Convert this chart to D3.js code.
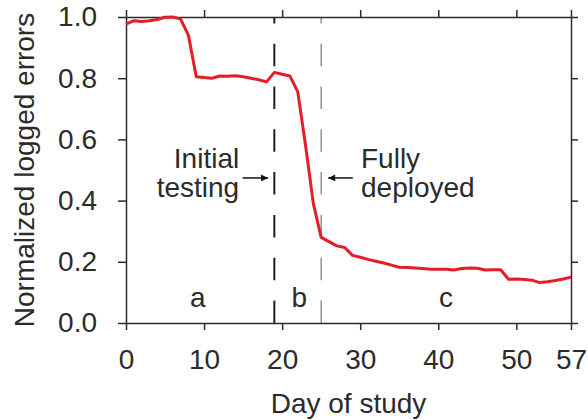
<!DOCTYPE html>
<html>
<head>
<meta charset="utf-8">
<script src="https://cdn.jsdelivr.net/npm/d3@7"></script>
<style>
  html, body { margin: 0; padding: 0; background: #fff; }
  svg text { font-family: "Liberation Sans", Arial, sans-serif; fill: #2b2b2b; }
</style>
</head>
<body>
<svg id="chart" width="588" height="420"></svg>
<script>
// ---- data ----
const days = [0,1,2,3,4,5,6,7,8,9,10,11,12,13,14,15,16,17,18,19,20,21,22,23,24,25,26,27,28,29,
              30,31,32,33,34,35,36,37,38,39,40,41,42,43,44,45,46,47,48,49,50,51,52,53,54,55,56,57];
const errors = [0.977,0.988,0.985,0.988,0.992,0.999,1.000,0.993,0.940,0.805,
                0.802,0.800,0.807,0.806,0.808,0.805,0.800,0.795,0.788,0.819,
                0.813,0.807,0.756,0.580,0.390,0.280,0.266,0.252,0.247,0.221,
                0.215,0.208,0.202,0.196,0.189,0.182,0.181,0.180,0.178,0.176,
                0.176,0.176,0.173,0.178,0.180,0.179,0.173,0.174,0.174,0.143,
                0.144,0.142,0.140,0.132,0.135,0.139,0.144,0.150];
const xTicks = [0,10,20,30,40,50,57];
const yTicks = [0,0.2,0.4,0.6,0.8,1.0];
const phaseDays = [19,25];
const phaseLabels = ["a","b","c"];
const phaseLabelDays = [9.2,22.2,41];
const xTitle = "Day of study";
const yTitle = "Normalized logged errors";
const leftNote = ["Initial","testing"];
const rightNote = ["Fully","deployed"];

// ---- layout ----
const W = 588, H = 420;
const m = {left:126, right:17, top:17, bottom:97};
const svg = d3.select("#chart");
const x = d3.scaleLinear().domain([0,57]).range([m.left, W - m.right]);
const y = d3.scaleLinear().domain([0,1]).range([H - m.bottom, m.top]);
const ink = "#2b2b2b";
const fs = 28;

// dashed phase lines (drawn from bottom up)
const dashCfg = [{w:2, c:"#1e1e1e"},{w:1.3, c:"#808080"}];
svg.append("g").selectAll("line").data(phaseDays).join("line")
  .attr("x1", d => x(d)).attr("x2", d => x(d))
  .attr("y1", y(0)).attr("y2", y(1))
  .attr("stroke", (d,i) => dashCfg[i].c)
  .attr("stroke-width", (d,i) => dashCfg[i].w)
  .attr("stroke-dasharray", "22.5 20.3");

// axes
function styleAxis(g){
  g.selectAll(".domain").attr("stroke", ink).attr("stroke-width", 1.5);
  g.selectAll(".tick line").attr("stroke", ink).attr("stroke-width", 1.5);
  g.selectAll(".tick text").style("font-size", fs + "px").attr("fill", ink);
}
svg.append("g").attr("transform", `translate(0,${y(0)})`)
  .call(d3.axisBottom(x).tickValues(xTicks).tickSize(7).tickSizeOuter(0).tickPadding(25).tickFormat(d3.format("d")))
  .call(styleAxis)
  .call(g => g.selectAll(".tick text").attr("dy", "0.71em").attr("y", 26));
svg.append("g").attr("transform", `translate(0,${y(1)})`)
  .call(d3.axisTop(x).tickValues(xTicks).tickSize(7).tickSizeOuter(0).tickFormat(""))
  .call(styleAxis);
svg.append("g").attr("transform", `translate(${x(0)},0)`)
  .call(d3.axisLeft(y).tickValues(yTicks).tickSize(8).tickSizeOuter(0).tickPadding(21).tickFormat(d3.format(".1f")))
  .call(styleAxis);
svg.append("g").attr("transform", `translate(${x(57)},0)`)
  .call(d3.axisRight(y).tickValues(yTicks).tickSize(7).tickSizeOuter(0).tickFormat(""))
  .call(styleAxis);

// data line
const line = d3.line().x((d,i) => x(days[i])).y(d => y(d));
svg.append("path").datum(errors)
  .attr("d", line).attr("fill", "none")
  .attr("stroke", "#e41e26").attr("stroke-width", 3)
  .attr("stroke-linejoin", "round");

// axis titles
svg.append("text").attr("x", (x(0)+x(57))/2).attr("y", 413)
  .attr("text-anchor", "middle").style("font-size", fs + "px").text(xTitle);
svg.append("text")
  .attr("transform", `translate(33.5,${(y(0)+y(1))/2}) rotate(-90)`)
  .attr("text-anchor", "middle").style("font-size", fs + "px").text(yTitle);

// phase labels
svg.append("g").selectAll("text").data(phaseLabels).join("text")
  .attr("x", (d,i) => x(phaseLabelDays[i])).attr("y", y(0.053))
  .attr("text-anchor", "middle").style("font-size", fs + "px").text(d => d);

// annotations
const noteY = [0.506, 0.413];
svg.append("g").selectAll("text").data(leftNote).join("text")
  .attr("x", x(14.5)).attr("y", (d,i) => y(noteY[i]))
  .attr("text-anchor", "end").style("font-size", fs + "px").text(d => d);
svg.append("g").selectAll("text").data(rightNote).join("text")
  .attr("x", x(30.1)).attr("y", (d,i) => y(noteY[i]))
  .attr("text-anchor", "start").style("font-size", fs + "px").text(d => d);

// arrows
const arrows = [{from:14.95, to:18.2}, {from:29.05, to:25.9}];
const arrowY = 0.474;
const defs = svg.append("defs");
defs.append("marker").attr("id","ah").attr("viewBox","0 0 10 10")
  .attr("refX", 10).attr("refY", 5).attr("markerWidth", 8).attr("markerHeight", 7)
  .attr("markerUnits","userSpaceOnUse").attr("orient","auto")
  .append("path").attr("d","M0,0 L10,5 L0,10 Z").attr("fill", "#111");
svg.append("g").selectAll("line").data(arrows).join("line")
  .attr("x1", d => x(d.from)).attr("x2", d => x(d.to))
  .attr("y1", y(arrowY)).attr("y2", y(arrowY))
  .attr("stroke", "#111").attr("stroke-width", 1.5)
  .attr("marker-end", "url(#ah)");
</script>
</body>
</html>
